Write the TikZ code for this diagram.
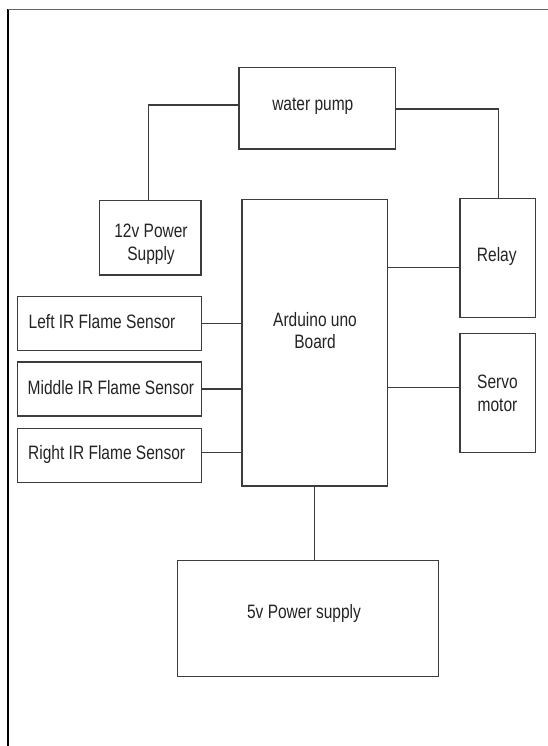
\documentclass[tikz,border=0pt]{standalone}
\usepackage{fontspec}
\setmainfont{Liberation Sans}[FakeStretch=0.8]
\definecolor{boxcol}{RGB}{60,60,60}
\definecolor{textcol}{RGB}{35,35,35}
\begin{document}
\begin{tikzpicture}[x=1pt,y=-1pt,
  boxs/.style={draw=boxcol, line width=1.3pt, inner sep=0pt, rectangle},
  lbl/.style={font=\fontsize{19.4}{22.5}\selectfont, text=textcol, inner sep=0pt, anchor=base, align=center},
  wire/.style={draw=boxcol, line width=1.1pt}]
\useasboundingbox (0,0) rectangle (548,746);
% page frame
\draw[line width=2pt, black] (8.3,9) -- (8.3,746);
\draw[line width=0.9pt, black!60] (8,9) -- (548,9);
% boxes
\node[boxs, minimum width=156.5pt, minimum height=81.3pt] (pump) at (317.2,108.3) {};
\node[boxs, minimum width=101.3pt, minimum height=74.3pt] (ps12) at (150.35,237.85) {};
\node[boxs, minimum width=145.4pt, minimum height=286.3pt] (ard) at (314.7,342.85) {};
\node[boxs, minimum width=75.7pt, minimum height=119.4pt] (relay) at (497.85,258) {};
\node[boxs, minimum width=75.7pt, minimum height=119.4pt] (servo) at (497.85,393) {};
\node[boxs, minimum width=184.2pt, minimum height=54pt] (lir) at (109.6,323.7) {};
\node[boxs, minimum width=184.2pt, minimum height=54pt] (mir) at (109.6,389) {};
\node[boxs, minimum width=184.2pt, minimum height=54pt] (rir) at (109.6,455.7) {};
\node[boxs, minimum width=260.9pt, minimum height=116.4pt] (ps5) at (308.05,618.5) {};
% texts (base anchor of two-line texts = last line)
\node[lbl] (pumpT) at (312.8,111) {water pump};
\node[lbl] (ps12T) at (151,260) {12v Power\\Supply};
\node[lbl] (ardT) at (315,348.7) {Arduino uno\\Board};
\node[lbl] (relayT) at (496.8,261) {Relay};
\node[lbl] (servoT) at (497.5,411.3) {Servo\\motor};
\node[lbl, anchor=base west] (lirT) at (28.5,328.7) {Left IR Flame Sensor};
\node[lbl, anchor=base west] (mirT) at (27.5,394.3) {Middle IR Flame Sensor};
\node[lbl, anchor=base west] (rirT) at (28,459.3) {Right IR Flame Sensor};
\node[lbl] (ps5T) at (304,618.3) {5v Power supply};
% connectors
\coordinate (pl) at (148.3,105);
\coordinate (pr) at (498.6,109);
\coordinate (cr) at (0,267.7);
\coordinate (cs) at (0,387.3);
\coordinate (crir) at (0,452.7);
\draw[wire] (pump.west |- pl) -- (pl) -- (pl |- ps12.north);
\draw[wire] (pump.east |- pr) -- (pr) -- (pr |- relay.north);
\draw[wire] (ard.east |- cr) -- (relay.west |- cr);
\draw[wire] (ard.east |- cs) -- (servo.west |- cs);
\draw[wire] (lir.east) -- (lir.east -| ard.west);
\draw[wire] (mir.east) -- (mir.east -| ard.west);
\draw[wire] (rir.east |- crir) -- (ard.west |- crir);
\draw[wire] (ard.south) -- (ard.south |- ps5.north);
\end{tikzpicture}
\end{document}
